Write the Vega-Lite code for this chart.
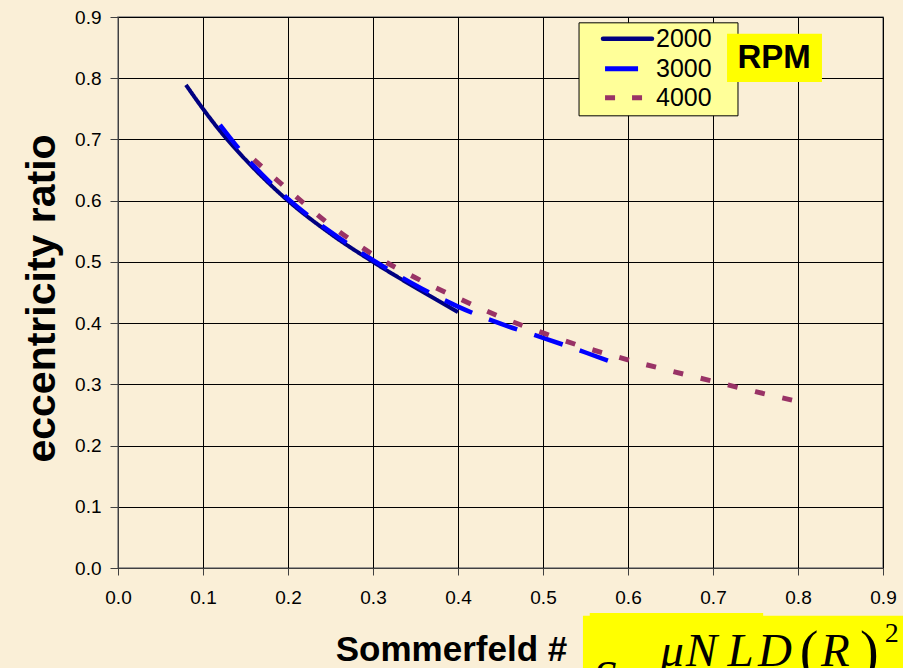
{
  "$schema": "https://vega.github.io/schema/vega-lite/v6.json",
  "width": 765,
  "height": 551,
  "autosize": {"type": "none"},
  "padding": {"left": 118, "top": 17, "right": 20, "bottom": 100},
  "background": "#FAEFD7",
  "config": {
    "font": "Liberation Sans",
    "view": {"stroke": "#808080", "strokeWidth": 1.5},
    "axis": {"gridColor": "#000000", "gridOpacity": 1, "gridWidth": 1, "domainColor": "#404040", "tickColor": "#404040", "labelColor": "#000000", "titleColor": "#000000", "labelFont": "Liberation Sans", "titleFont": "Liberation Sans"},
    "text": {"font": "Liberation Serif", "fontStyle": "italic", "fontSize": 47, "align": "left", "baseline": "alphabetic", "color": "#000000", "clip": false}
  },
  "datasets": {
    "curves": [
      {"rpm": "2000", "S": 0.08, "e": 0.789},
      {"rpm": "2000", "S": 0.10, "e": 0.750},
      {"rpm": "2000", "S": 0.12, "e": 0.714},
      {"rpm": "2000", "S": 0.15, "e": 0.667},
      {"rpm": "2000", "S": 0.20, "e": 0.600},
      {"rpm": "2000", "S": 0.25, "e": 0.546},
      {"rpm": "2000", "S": 0.30, "e": 0.500},
      {"rpm": "2000", "S": 0.35, "e": 0.458},
      {"rpm": "2000", "S": 0.40, "e": 0.418},
      {"rpm": "3000", "S": 0.12, "e": 0.724},
      {"rpm": "3000", "S": 0.15, "e": 0.672},
      {"rpm": "3000", "S": 0.20, "e": 0.603},
      {"rpm": "3000", "S": 0.25, "e": 0.549},
      {"rpm": "3000", "S": 0.30, "e": 0.503},
      {"rpm": "3000", "S": 0.35, "e": 0.462},
      {"rpm": "3000", "S": 0.40, "e": 0.427},
      {"rpm": "3000", "S": 0.45, "e": 0.399},
      {"rpm": "3000", "S": 0.50, "e": 0.376},
      {"rpm": "3000", "S": 0.55, "e": 0.352},
      {"rpm": "3000", "S": 0.593, "e": 0.330},
      {"rpm": "4000", "S": 0.16, "e": 0.667},
      {"rpm": "4000", "S": 0.20, "e": 0.618},
      {"rpm": "4000", "S": 0.25, "e": 0.560},
      {"rpm": "4000", "S": 0.30, "e": 0.512},
      {"rpm": "4000", "S": 0.35, "e": 0.474},
      {"rpm": "4000", "S": 0.40, "e": 0.441},
      {"rpm": "4000", "S": 0.45, "e": 0.410},
      {"rpm": "4000", "S": 0.50, "e": 0.384},
      {"rpm": "4000", "S": 0.55, "e": 0.360},
      {"rpm": "4000", "S": 0.60, "e": 0.340},
      {"rpm": "4000", "S": 0.65, "e": 0.322},
      {"rpm": "4000", "S": 0.70, "e": 0.305},
      {"rpm": "4000", "S": 0.75, "e": 0.288},
      {"rpm": "4000", "S": 0.80, "e": 0.272}
    ]
  },
  "layer": [
    {
      "data": {"name": "curves"},
      "mark": {"type": "line", "interpolate": "monotone", "clip": false},
      "encoding": {
        "x": {
          "field": "S", "type": "quantitative",
          "scale": {"domain": [0, 0.9], "nice": false, "zero": false},
          "axis": {
            "values": [0, 0.1, 0.2, 0.3, 0.4, 0.5, 0.6, 0.7, 0.8, 0.9],
            "format": ".1f", "labelFontSize": 19, "tickSize": 7, "labelPadding": 13,
            "title": "Sommerfeld #", "titleFontSize": 35, "titleFontWeight": "bold",
            "titleX": 333, "titleY": 81, "titleBaseline": "middle", "titleAnchor": null,
            "labelFlush": false
          }
        },
        "y": {
          "field": "e", "type": "quantitative",
          "scale": {"domain": [0, 0.9], "nice": false, "zero": false},
          "axis": {
            "values": [0, 0.1, 0.2, 0.3, 0.4, 0.5, 0.6, 0.7, 0.8, 0.9],
            "format": ".1f", "labelFontSize": 19, "tickSize": 8, "labelPadding": 9,
            "title": "eccentricity ratio", "titleFontSize": 41, "titleFontWeight": "bold",
            "titleX": -76, "titleY": 281, "titleAngle": -90, "titleAlign": "center", "titleBaseline": "middle",
            "labelFlush": false
          }
        },
        "color": {
          "field": "rpm", "type": "nominal",
          "scale": {"domain": ["2000", "3000", "4000"], "range": ["#000080", "#0000FF", "#993366"]},
          "legend": null
        },
        "strokeDash": {
          "field": "rpm", "type": "nominal",
          "scale": {"domain": ["2000", "3000", "4000"], "range": [[1, 0], [30, 18], [10, 18]]},
          "legend": null
        },
        "strokeWidth": {
          "field": "rpm", "type": "nominal",
          "scale": {"domain": ["2000", "3000", "4000"], "range": [4, 5, 5]},
          "legend": null
        }
      }
    },
    {
      "data": {"values": [{}]},
      "mark": {"type": "rect", "fill": "#FFFF99", "stroke": "#000000", "strokeWidth": 1, "clip": false},
      "encoding": {
        "x": {"datum": 0.5424, "type": "quantitative"},
        "x2": {"datum": 0.7294},
        "y": {"datum": 0.8905, "type": "quantitative"},
        "y2": {"datum": 0.7386}
      }
    },
    {
      "data": {"values": [{}]},
      "mark": {"type": "rule", "stroke": "#000080", "strokeWidth": 4.5, "strokeCap": "round"},
      "encoding": {
        "x": {"datum": 0.5706, "type": "quantitative"},
        "x2": {"datum": 0.6282},
        "y": {"datum": 0.8644, "type": "quantitative"}
      }
    },
    {
      "data": {"values": [{}]},
      "mark": {"type": "rule", "stroke": "#0000FF", "strokeWidth": 5, "strokeDash": [33, 20]},
      "encoding": {
        "x": {"datum": 0.5730, "type": "quantitative"},
        "x2": {"datum": 0.6282},
        "y": {"datum": 0.8154, "type": "quantitative"}
      }
    },
    {
      "data": {"values": [{}]},
      "mark": {"type": "rule", "stroke": "#993366", "strokeWidth": 5, "strokeDash": [10, 17]},
      "encoding": {
        "x": {"datum": 0.5730, "type": "quantitative"},
        "x2": {"datum": 0.6282},
        "y": {"datum": 0.768, "type": "quantitative"}
      }
    },
    {
      "data": {"values": [{}]},
      "mark": {"type": "text", "text": "2000", "font": "Liberation Sans", "fontStyle": "normal", "fontSize": 25, "baseline": "middle"},
      "encoding": {"x": {"datum": 0.633, "type": "quantitative"}, "y": {"datum": 0.8644, "type": "quantitative"}}
    },
    {
      "data": {"values": [{}]},
      "mark": {"type": "text", "text": "3000", "font": "Liberation Sans", "fontStyle": "normal", "fontSize": 25, "baseline": "middle"},
      "encoding": {"x": {"datum": 0.633, "type": "quantitative"}, "y": {"datum": 0.8154, "type": "quantitative"}}
    },
    {
      "data": {"values": [{}]},
      "mark": {"type": "text", "text": "4000", "font": "Liberation Sans", "fontStyle": "normal", "fontSize": 25, "baseline": "middle"},
      "encoding": {"x": {"datum": 0.633, "type": "quantitative"}, "y": {"datum": 0.768, "type": "quantitative"}}
    },
    {
      "data": {"values": [{}]},
      "mark": {"type": "rect", "fill": "#FFFF00", "clip": false},
      "encoding": {
        "x": {"datum": 0.7165, "type": "quantitative"},
        "x2": {"datum": 0.8282},
        "y": {"datum": 0.8725, "type": "quantitative"},
        "y2": {"datum": 0.794}
      }
    },
    {
      "data": {"values": [{}]},
      "mark": {"type": "text", "text": "RPM", "font": "Liberation Sans", "fontStyle": "normal", "fontSize": 33, "fontWeight": "bold", "align": "center", "baseline": "middle"},
      "encoding": {
        "x": {"datum": 0.772, "type": "quantitative"},
        "y": {"datum": 0.833, "type": "quantitative"}
      }
    },
    {
      "data": {"values": [{}]},
      "mark": {"type": "rect", "fill": "#FFFF00", "clip": false},
      "encoding": {
        "x": {"datum": 0.547, "type": "quantitative"},
        "x2": {"datum": 0.95},
        "y": {"datum": -0.078, "type": "quantitative"},
        "y2": {"datum": -0.25}
      }
    },
    {
      "data": {"values": [{}]},
      "mark": {"type": "rect", "fill": "#FFFF00", "clip": false},
      "encoding": {
        "x": {"datum": 0.555, "type": "quantitative"},
        "x2": {"datum": 0.759},
        "y": {"datum": -0.0735, "type": "quantitative"},
        "y2": {"datum": -0.08}
      }
    },
    {
      "data": {"values": [{}]},
      "mark": {"type": "text", "text": "μ"},
      "encoding": {"x": {"datum": 0.638, "type": "quantitative"}, "y": {"datum": -0.160, "type": "quantitative"}}
    },
    {
      "data": {"values": [{}]},
      "mark": {"type": "text", "text": "N"},
      "encoding": {"x": {"datum": 0.668, "type": "quantitative"}, "y": {"datum": -0.160, "type": "quantitative"}}
    },
    {
      "data": {"values": [{}]},
      "mark": {"type": "text", "text": "L"},
      "encoding": {"x": {"datum": 0.717, "type": "quantitative"}, "y": {"datum": -0.160, "type": "quantitative"}}
    },
    {
      "data": {"values": [{}]},
      "mark": {"type": "text", "text": "D"},
      "encoding": {"x": {"datum": 0.753, "type": "quantitative"}, "y": {"datum": -0.160, "type": "quantitative"}}
    },
    {
      "data": {"values": [{}]},
      "mark": {"type": "text", "text": "(", "fontStyle": "normal", "fontSize": 56},
      "encoding": {"x": {"datum": 0.802, "type": "quantitative"}, "y": {"datum": -0.166, "type": "quantitative"}}
    },
    {
      "data": {"values": [{}]},
      "mark": {"type": "text", "text": "R"},
      "encoding": {"x": {"datum": 0.827, "type": "quantitative"}, "y": {"datum": -0.160, "type": "quantitative"}}
    },
    {
      "data": {"values": [{}]},
      "mark": {"type": "text", "text": ")", "fontStyle": "normal", "fontSize": 56},
      "encoding": {"x": {"datum": 0.873, "type": "quantitative"}, "y": {"datum": -0.166, "type": "quantitative"}}
    },
    {
      "data": {"values": [{}]},
      "mark": {"type": "text", "text": "2", "fontStyle": "normal", "fontSize": 28},
      "encoding": {"x": {"datum": 0.902, "type": "quantitative"}, "y": {"datum": -0.121, "type": "quantitative"}}
    },
    {
      "data": {"values": [{}]},
      "mark": {"type": "text", "text": "S ="},
      "encoding": {"x": {"datum": 0.5588, "type": "quantitative"}, "y": {"datum": -0.204, "type": "quantitative"}}
    }
  ]
}
